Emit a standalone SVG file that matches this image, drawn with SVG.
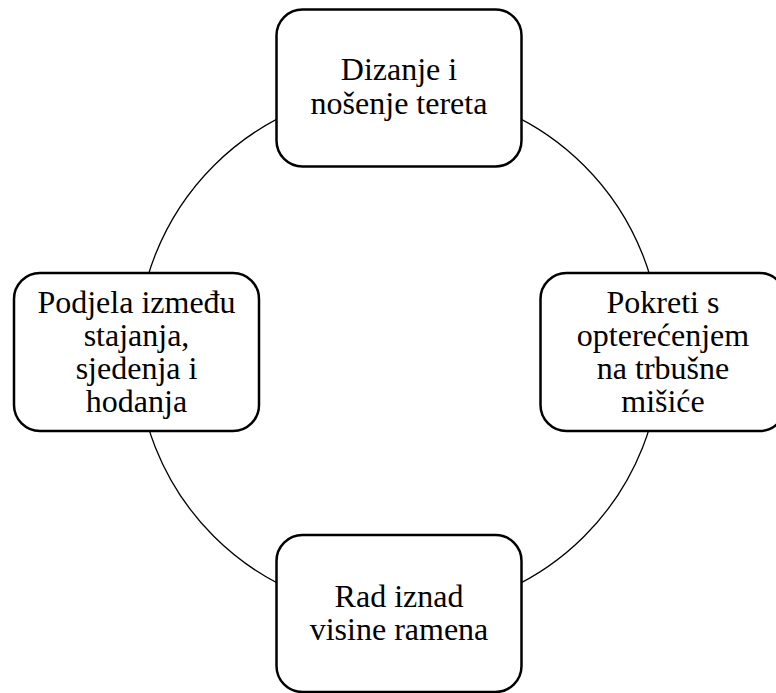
<svg xmlns="http://www.w3.org/2000/svg" width="776" height="693" viewBox="0 0 776 693">
<style>
.box{fill:#fff;stroke:#000;stroke-width:2.5}
.conn{fill:none;stroke:#000;stroke-width:1.3}
.lbl{font-family:'Liberation Serif','Times New Roman',Times,serif;font-size:32px;fill:#000;text-anchor:middle}
</style>
<rect width="776" height="693" fill="#fff"/>
<g id="connectors">
<circle class="conn" cx="399" cy="351" r="262"/>
</g>
<g id="node-top">
<rect class="box" x="276.5" y="9.5" width="245" height="157" rx="26"/>
<text class="lbl" font-family="Liberation Serif, serif" x="399" y="79.5">Dizanje i</text>
<text class="lbl" font-family="Liberation Serif, serif" x="399" y="113.5">nošenje tereta</text>
</g>
<g id="node-right">
<rect class="box" x="540.5" y="273" width="245" height="158" rx="26"/>
<text class="lbl" font-family="Liberation Serif, serif" x="663" y="313">Pokreti s</text>
<text class="lbl" font-family="Liberation Serif, serif" x="663" y="346">opterećenjem</text>
<text class="lbl" font-family="Liberation Serif, serif" x="663" y="379">na trbušne</text>
<text class="lbl" font-family="Liberation Serif, serif" x="663" y="412">mišiće</text>
</g>
<g id="node-bottom">
<rect class="box" x="276.5" y="535" width="245" height="157" rx="26"/>
<text class="lbl" font-family="Liberation Serif, serif" x="399" y="607">Rad iznad</text>
<text class="lbl" font-family="Liberation Serif, serif" x="399" y="640">visine ramena</text>
</g>
<g id="node-left">
<rect class="box" x="14" y="273" width="245" height="158" rx="26"/>
<text class="lbl" font-family="Liberation Serif, serif" x="136.5" y="313">Podjela između</text>
<text class="lbl" font-family="Liberation Serif, serif" x="136.5" y="346">stajanja,</text>
<text class="lbl" font-family="Liberation Serif, serif" x="136.5" y="379">sjedenja i</text>
<text class="lbl" font-family="Liberation Serif, serif" x="136.5" y="412">hodanja</text>
</g>
</svg>
